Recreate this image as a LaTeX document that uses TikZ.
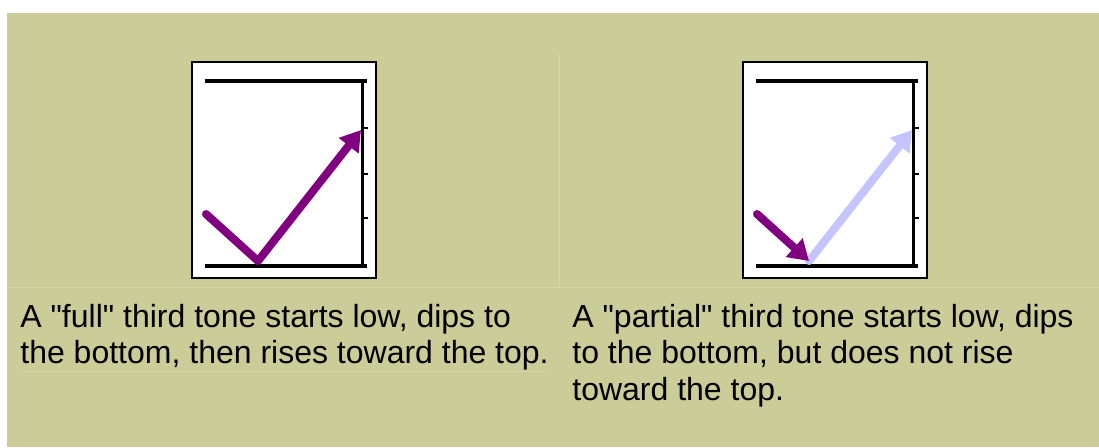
\documentclass[tikz,border=0pt]{standalone}
\usepackage{fontspec}
\setmainfont{Liberation Sans}[Ligatures=TeXOff]
\usetikzlibrary{arrows.meta, positioning}
\definecolor{khaki}{RGB}{204,204,153}
\definecolor{tonepurple}{RGB}{128,0,128}
\definecolor{tonepale}{RGB}{196,196,255}
\definecolor{cellline}{RGB}{214,214,172}

\begin{document}
\begin{tikzpicture}[
    x=0.5pt, y=-0.5pt,
    plotframe/.style={draw=black, line width=1pt, fill=white},
    staff/.style={line width=2pt, black},
    axisline/.style={line width=1.5pt, black},
    tickmark/.style={line width=0.6pt, black},
    contour/.style={line width=4pt, line cap=round, line join=round, -{Triangle[length=10pt, width=12pt]}},
    caption/.style={anchor=base west, inner sep=0pt, align=left, font=\fontsize{16}{18.3}\selectfont}
]

% Page and table background
\useasboundingbox (0,0) rectangle (1099,447);
\fill[khaki] (7,13) rectangle (1099,447);
\draw[cellline, line width=0.5pt] (559,53) -- (559,287);
\draw[cellline, line width=0.5pt] (7,287) -- (1099,287);
\draw[cellline, line width=0.5pt] (20,371) -- (548,371);

% Pitch charts
\foreach \dx/\name in {0/full, 551/part} {
  \begin{scope}[shift={(\dx,0)}]
    \draw[plotframe] (192,62) rectangle (376,278);
    \draw[staff] (205,81) -- (367,81);
    \draw[staff] (205,266) -- (367,266);
    \draw[axisline] (362,81) -- (362,266);
    \foreach \ty in {128,174,218} \draw[tickmark] (362,\ty) -- (368,\ty);
    \coordinate (\name-start) at (206,214);
    \coordinate (\name-dip) at (258,261);
    \coordinate (\name-top) at (361,130);
  \end{scope}
}

% Full third tone
\draw[contour, tonepurple] (full-start) -- (full-dip) -- (full-top);

% Partial third tone
\draw[contour, tonepale] (part-dip) -- (part-top);
\draw[contour, tonepurple] (part-start) -- (part-dip);

% Captions (base = last line)
\node[caption] (fullcap) at (20,363.6) {A "full" third tone starts low, dips to\\the bottom, then rises toward the top.};
\node[caption] (partcap) at (572,400.2) {A "partial" third tone starts low, dips\\to the bottom, but does not rise\\toward the top.};

\end{tikzpicture}
\end{document}
